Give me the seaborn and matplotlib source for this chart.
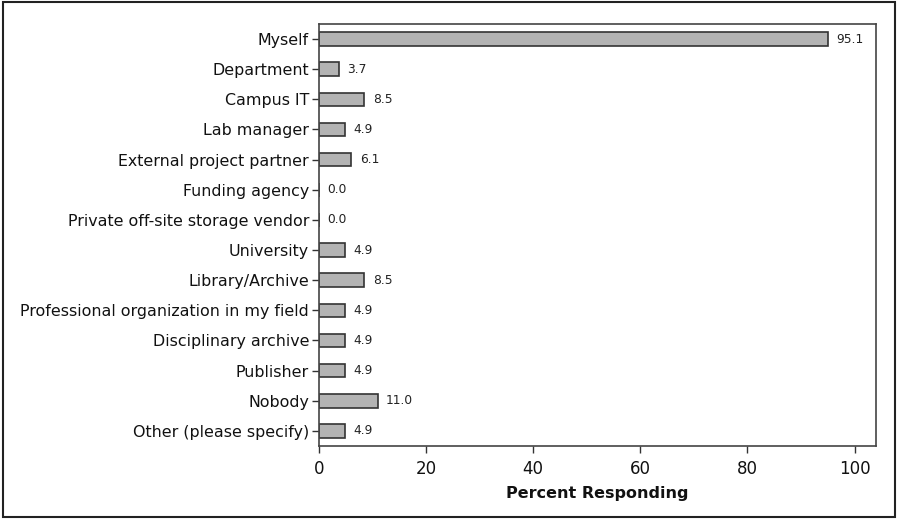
import matplotlib
matplotlib.use("Agg")
import matplotlib.pyplot as plt
import seaborn as sns
import pandas as pd
from matplotlib.patches import Rectangle

# data
categories = ["Myself", "Department", "Campus IT", "Lab manager",
              "External project partner", "Funding agency",
              "Private off-site storage vendor", "University",
              "Library/Archive", "Professional organization in my field",
              "Disciplinary archive", "Publisher", "Nobody",
              "Other (please specify)"]
percent = [95.1, 3.7, 8.5, 4.9, 6.1, 0.0, 0.0, 4.9, 8.5, 4.9, 4.9, 4.9, 11.0, 4.9]

df = pd.DataFrame({"category": categories, "percent": percent})

sns.set_style("white")
plt.rcParams['font.family'] = ['DejaVu Sans']

fig = plt.figure(figsize=(8.98, 5.19), dpi=100)
ax = fig.add_axes([0.355, 0.1407, 0.6205, 0.8131])

sns.barplot(data=df, x="percent", y="category", orient="h", color="#b3b3b3",
            edgecolor="#333333", linewidth=1.2, width=0.45, saturation=1, ax=ax)

ax.bar_label(ax.containers[0], fmt="%.1f", padding=6, fontsize=8.8, color="#222222")

ax.set_xlim(0, 104)
ax.set_ylim(13.5, -0.5)
ax.set_xticks([0, 20, 40, 60, 80, 100])
ax.set_ylabel("")
ax.set_xlabel("Percent Responding", fontsize=11.5, fontweight="bold", color="#111111",
              labelpad=6)
ax.tick_params(axis="both", direction="out", length=5, width=1, color="#333333",
               labelcolor="#111111")
ax.tick_params(axis="y", labelsize=11.4, pad=2)
ax.tick_params(axis="x", labelsize=12, pad=5)
ax.yaxis.set_ticks_position("left")
ax.xaxis.set_ticks_position("bottom")

for s in ax.spines.values():
    s.set_color("#444444")
    s.set_linewidth(1.2)

# frame around the whole figure
fig.patches.append(Rectangle((0.003, 0.004), 0.994, 0.992, transform=fig.transFigure,
                             fill=False, edgecolor="#222222", linewidth=1.5))

fig.savefig("out.png", dpi=100)
